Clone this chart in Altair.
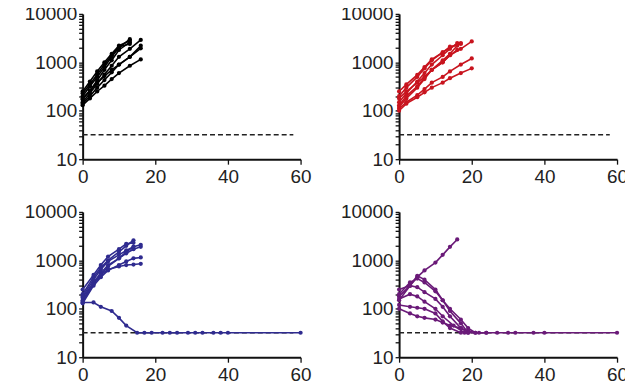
import altair as alt
import pandas as pd

# ---- data ----
LOD = 32          # dashed detection-limit line
DASH_DAYS = [0, 58]

# Panel 1 (black)
black_days = [
    [0, 2, 4, 6, 8, 10, 13],
    [0, 2, 4, 6, 8, 10, 13],
    [0, 2, 4, 6, 8, 10, 13],
    [0, 2, 4, 6, 8, 10, 13, 16],
    [0, 2, 4, 6, 8, 10, 13, 16],
    [0, 2, 4, 6, 8, 10, 13, 16],
    [0, 2, 4, 6, 8, 10, 13],
    [0, 2, 4, 6, 8, 10, 13, 16],
]
black_vals = [
    [200, 320, 500, 800, 1300, 2000, 3000],
    [170, 260, 420, 700, 1100, 1800, 2600],
    [230, 350, 560, 900, 1400, 2100, 2400],
    [150, 230, 360, 560, 850, 1300, 1900, 2900],
    [180, 260, 380, 520, 700, 900, 1300, 1950],
    [130, 180, 250, 330, 450, 600, 850, 1150],
    [250, 400, 650, 1000, 1500, 2200, 2800],
    [140, 200, 300, 430, 620, 900, 1300, 2200],
]

# Panel 2 (red)
red_days = [
    [0, 2, 5, 7, 9, 12, 14, 16],
    [0, 2, 5, 7, 9, 12, 14, 17],
    [0, 2, 5, 7, 9, 12, 14, 16],
    [0, 2, 5, 7, 9, 12, 14, 17, 20],
    [0, 2, 5, 7, 9, 12, 14, 17, 20],
    [0, 2, 5, 7, 9, 12, 14, 17, 20],
    [0, 2, 5, 7, 9, 12, 14, 17],
    [0, 2, 5, 7, 9, 12, 14, 16],
]
red_vals = [
    [150, 230, 400, 600, 900, 1400, 1900, 2500],
    [200, 300, 500, 750, 1100, 1600, 2000, 2500],
    [120, 180, 300, 450, 700, 1100, 1500, 2200],
    [180, 250, 380, 500, 700, 1000, 1400, 1900, 2700],
    [110, 150, 210, 280, 380, 500, 650, 900, 1200],
    [100, 140, 190, 240, 300, 380, 470, 600, 750],
    [250, 350, 550, 800, 1150, 1600, 2100, 2400],
    [130, 200, 320, 480, 700, 1000, 1400, 1800],
]

# Panel 3 (blue)
blue_days = [
    [0, 3, 5, 7, 10, 12, 14],
    [0, 3, 5, 7, 10, 12, 14, 16],
    [0, 3, 5, 7, 10, 12, 14, 16],
    [0, 3, 5, 7, 10, 12, 14, 16],
    [0, 3, 5, 7, 10, 12, 14],
    [0, 3, 5, 7, 10, 12, 14, 16],
    [0, 3, 5, 7, 10, 12, 14],
    [0, 3, 5, 8, 10, 12, 15, 17, 19, 22, 24, 26, 29, 31, 33, 36, 38, 40, 60],
]
blue_vals = [
    [200, 450, 700, 1000, 1500, 2000, 2600],
    [150, 350, 550, 800, 1100, 1400, 1700, 1900],
    [130, 300, 450, 620, 800, 950, 1100, 1150],
    [170, 350, 500, 650, 750, 800, 820, 850],
    [250, 500, 800, 1200, 1700, 2200, 2300],
    [180, 400, 650, 950, 1300, 1600, 1900, 2100],
    [140, 320, 500, 750, 1100, 1500, 1900],
    [135, 135, 110, 90, 65, 45, 32, 32, 32, 32, 32, 32, 32, 32, 32, 32, 32, 32, 32],
]

# Panel 4 (purple)
purple_days = [
    [0, 3, 5, 7, 10, 12, 14, 16],
    [0, 3, 5, 7, 10, 12, 14, 17, 19],
    [0, 3, 5, 7, 10, 12, 14, 17, 19, 21],
    [0, 3, 5, 7, 10, 12, 14, 17],
    [0, 3, 5, 7, 10, 12, 14, 17, 19, 21, 24],
    [0, 3, 5, 7, 10, 12, 14, 17, 19],
    [0, 3, 5, 7, 10, 12, 15, 18, 22, 24, 27, 30, 32, 37, 40, 60],
]
purple_vals = [
    [180, 300, 450, 620, 900, 1300, 1900, 2700],
    [150, 300, 480, 400, 250, 150, 90, 50, 32],
    [200, 350, 420, 350, 230, 150, 100, 60, 40, 32],
    [120, 110, 105, 100, 80, 55, 40, 32],
    [100, 80, 70, 65, 60, 52, 45, 40, 35, 32, 32],
    [250, 300, 280, 220, 160, 110, 70, 40, 32],
    [160, 200, 180, 140, 100, 70, 45, 32, 32, 32, 32, 32, 32, 32, 32, 32],
]

COLORS = ["#000000", "#c8141e", "#2f2b8f", "#6a1a78"]
PANELS = [(black_days, black_vals), (red_days, red_vals),
          (blue_days, blue_vals), (purple_days, purple_vals)]

Y_TICKS = [10, 20, 30, 40, 50, 60, 70, 80, 90,
           100, 200, 300, 400, 500, 600, 700, 800, 900,
           1000, 2000, 3000, 4000, 5000, 6000, 7000, 8000, 9000, 10000]
X_TICKS = [0, 20, 40, 60]
FONT = "Liberation Sans"


def to_df(days, vals):
    rows = []
    for m, (ds, vs) in enumerate(zip(days, vals)):
        for d, v in zip(ds, vs):
            rows.append({"mouse": m, "day": d, "value": v})
    return pd.DataFrame(rows)


dash_df = pd.DataFrame({"day": [DASH_DAYS[0]], "day2": [DASH_DAYS[1]], "value": [LOD]})


def panel(days, vals, color):
    df = to_df(days, vals)
    x = alt.X("day:Q", scale=alt.Scale(domain=[0, 60], nice=False),
              axis=alt.Axis(values=X_TICKS, title=None, labelFlush=False))
    y = alt.Y("value:Q",
              scale=alt.Scale(type="log", domain=[10, 10000], nice=False),
              axis=alt.Axis(values=Y_TICKS, format="d", title=None,
                            labelExpr="(datum.value==10||datum.value==100||datum.value==1000||datum.value==10000) ? datum.label : ''"))
    rule = alt.Chart(dash_df).mark_rule(strokeDash=[5, 3], color="#222222", strokeWidth=1.6).encode(
        x=x, x2="day2:Q", y=y)
    line = alt.Chart(df).mark_line(color=color, strokeWidth=1.6).encode(x=x, y=y, detail="mouse:N")
    pts = alt.Chart(df).mark_point(filled=True, shape="circle", size=18, color=color, opacity=1).encode(
        x=x, y=y, detail="mouse:N")
    return alt.layer(rule, line, pts).properties(width=219, height=146)


charts = [panel(d, v, c) for (d, v), c in zip(PANELS, COLORS)]

chart = alt.concat(*charts, columns=2, spacing={"row": 17, "column": 29}).properties(
    padding={"left": 16, "top": -4, "right": -3, "bottom": 0}
).configure_view(stroke=None).configure_axis(
    grid=False, domainColor="#111111", domainWidth=2, tickColor="#111111",
    tickWidth=1.3, tickSize=4, labelFont=FONT, labelFontSize=19, labelColor="#222222",
    labelPadding=2
).configure_axisX(labelPadding=3, tickSize=5)

chart.save("out.html", embed_options={"renderer": "svg", "actions": False})
